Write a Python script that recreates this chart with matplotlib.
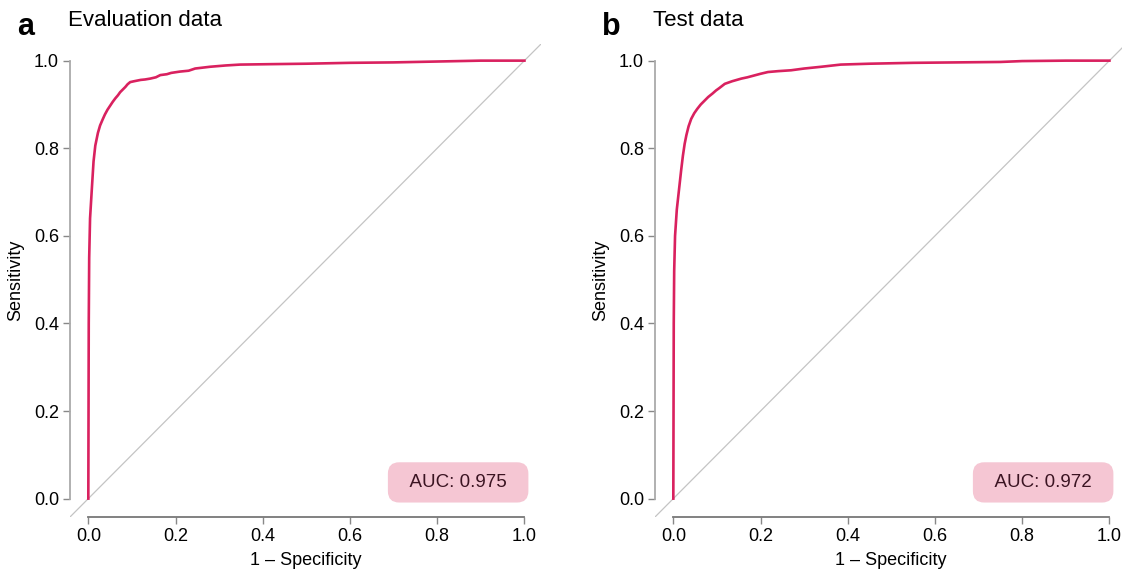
import numpy as np
import matplotlib
matplotlib.use("Agg")
import matplotlib.pyplot as plt

plt.rcParams['font.family'] = ['Liberation Sans', 'DejaVu Sans']

# ROC curves (1 - specificity, sensitivity)
eval_fpr = [0.0, 0.0005, 0.001, 0.002, 0.004, 0.008, 0.012, 0.016, 0.022, 0.027, 0.033, 0.038,
            0.044, 0.05, 0.056, 0.062, 0.068, 0.073, 0.079, 0.085, 0.09, 0.096, 0.105, 0.12,
            0.13, 0.142, 0.155, 0.165, 0.18, 0.19, 0.21, 0.23,
            0.245, 0.279, 0.315, 0.348, 0.42, 0.5, 0.6, 0.7, 0.8, 0.85, 0.9, 1.0]
eval_tpr = [0.0, 0.2, 0.4, 0.55, 0.64, 0.706, 0.77, 0.806, 0.835, 0.852, 0.866, 0.877,
            0.888, 0.897, 0.906, 0.914, 0.921, 0.928, 0.934, 0.94, 0.946, 0.951, 0.953, 0.956,
            0.957, 0.959, 0.962, 0.967, 0.969, 0.972, 0.975, 0.977,
            0.982, 0.986, 0.989, 0.991, 0.992, 0.993, 0.995, 0.996, 0.998, 0.999, 1.0, 1.0]

test_fpr = [0.0, 0.0005, 0.001, 0.002, 0.004, 0.008, 0.014, 0.018, 0.022, 0.026, 0.03, 0.035,
            0.041, 0.048, 0.055, 0.063, 0.072, 0.08, 0.09, 0.098, 0.105, 0.118, 0.135,
            0.156, 0.17, 0.185, 0.2, 0.217, 0.24, 0.27,
            0.3, 0.339, 0.384, 0.45, 0.55, 0.65, 0.75, 0.8, 0.9, 1.0]
test_tpr = [0.0, 0.2, 0.4, 0.52, 0.6, 0.66, 0.714, 0.75, 0.783, 0.81, 0.83, 0.85,
            0.867, 0.88, 0.89, 0.9, 0.909, 0.917, 0.925, 0.932, 0.937, 0.947, 0.953,
            0.959, 0.962, 0.966, 0.97, 0.974, 0.976, 0.978,
            0.982, 0.986, 0.991, 0.993, 0.995, 0.996, 0.997, 0.999, 1.0, 1.0]

panels = ["a", "b"]
titles = ["Evaluation data", "Test data"]
aucs = [0.975, 0.972]
curves = [(eval_fpr, eval_tpr), (test_fpr, test_tpr)]
ticks = [0.0, 0.2, 0.4, 0.6, 0.8, 1.0]

line_color = "#d9215f"
lo, hi = -0.042, 1.038

fig = plt.figure(figsize=(11.22, 5.69), dpi=100)
lefts = [70 / 1122, 655 / 1122]
for i in range(2):
    ax = fig.add_axes([lefts[i], 52 / 569, 471 / 1122, 473 / 569])
    fpr, tpr = curves[i]
    ax.axline((0, 0), (1, 1), color="#c4c4c4", lw=0.9, zorder=1)
    ax.plot(fpr, tpr, color=line_color, lw=1.9, zorder=3)
    ax.set_xlim(lo, hi)
    ax.set_ylim(lo, hi)

    for s in ["top", "right"]:
        ax.spines[s].set_visible(False)
    ax.spines["left"].set_position(("data", lo))
    ax.spines["bottom"].set_position(("data", lo))
    ax.spines["left"].set_bounds(0, 1)
    ax.spines["bottom"].set_bounds(0, 1)
    ax.spines["left"].set_color("#aaaaaa")
    ax.spines["bottom"].set_color("#777777")
    ax.spines["left"].set_linewidth(1.3)
    ax.spines["bottom"].set_linewidth(1.3)
    ax.set_xticks(ticks)
    ax.set_yticks(ticks)
    ax.set_xticklabels([f"{t:.1f}" for t in ticks])
    ax.set_yticklabels([f"{t:.1f}" for t in ticks])
    ax.tick_params(axis="both", labelsize=13, length=5, width=1, color="#888888", pad=3)
    ax.set_xlabel("1 \u2013 Specificity", fontsize=13, labelpad=5)
    ax.set_ylabel("Sensitivity", fontsize=13, labelpad=7)

    ax.text(0.848, 0.037, f"  AUC: {aucs[i]:.3f}  ", fontsize=13.5, color="#3b1422",
            ha="center", va="center", zorder=4,
            bbox=dict(boxstyle="round,pad=0.62,rounding_size=0.6", fc="#f5c6d3", ec="none"))

    fig.text(lefts[i] - 53 / 1122, 1 - 27 / 569, panels[i], fontsize=22, fontweight="bold",
             ha="left", va="center")
    fig.text(lefts[i] - 2 / 1122, 1 - 21 / 569, titles[i], fontsize=16, ha="left", va="center")

fig.savefig("out.png", dpi=100)
